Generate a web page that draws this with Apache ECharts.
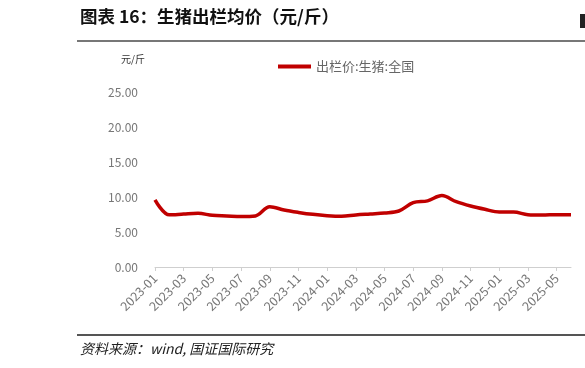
<!DOCTYPE html>
<html>
<head>
<meta charset="utf-8">
<script src="https://cdn.jsdelivr.net/npm/echarts@6/dist/echarts.min.js"></script>
<style>
  html, body { margin: 0; padding: 0; background: #fff; }
  #chart { width: 585px; height: 368px; }
</style>
</head>
<body>
<div id="chart"></div>
<script>
// monthly, 2023-01 .. 2025-06
const months = [
  '2023-01', '2023-02', '2023-03', '2023-04', '2023-05', '2023-06',
  '2023-07', '2023-08', '2023-09', '2023-10', '2023-11', '2023-12',
  '2024-01', '2024-02', '2024-03', '2024-04', '2024-05', '2024-06',
  '2024-07', '2024-08', '2024-09', '2024-10', '2024-11', '2024-12',
  '2025-01', '2025-02', '2025-03', '2025-04', '2025-05', '2025-06'
];
const hogPrice = [
  9.6, 7.45, 7.57, 7.67, 7.38, 7.29,
  7.2, 7.3, 8.6, 8.14, 7.8, 7.52,
  7.33, 7.24, 7.43, 7.57, 7.71, 8.0,
  9.19, 9.45, 10.2, 9.33, 8.71, 8.24,
  7.86, 7.86, 7.48, 7.43, 7.48, 7.48
];
const seriesName = '出栏价:生猪:全国';
const cjk = '"Noto Sans CJK SC", sans-serif';

const chart = echarts.init(document.getElementById('chart'));

chart.setOption({
  animation: false,
  textStyle: { fontFamily: cjk },
  grid: { left: 155, right: 14, top: 92, bottom: 101 },
  legend: {
    data: [seriesName],
    left: 273,
    top: 55,
    itemWidth: 33,
    itemHeight: 4,
    itemGap: 3,
    icon: 'rect',
    textStyle: { fontSize: 13, color: '#666', fontFamily: cjk }
  },
  xAxis: {
    type: 'category',
    data: months,
    boundaryGap: false,
    axisLine: { lineStyle: { color: '#cfcfcf' } },
    axisTick: { interval: 1, length: 4, lineStyle: { color: '#cfcfcf' } },
    axisLabel: {
      interval: 1,
      rotate: 45,
      fontSize: 12.5,
      color: '#777',
      margin: 9
    }
  },
  yAxis: {
    type: 'value',
    min: 0,
    max: 25,
    interval: 5,
    name: '元/斤',
    nameLocation: 'end',
    nameGap: 28,
    nameTextStyle: { fontSize: 10, color: '#333', align: 'right', padding: [0, 10, 0, 0] },
    axisLine: { show: false },
    axisTick: { show: false },
    splitLine: { show: false },
    axisLabel: {
      fontSize: 12,
      color: '#777',
      margin: 17,
      formatter: v => v.toFixed(2)
    }
  },
  series: [{
    name: seriesName,
    type: 'line',
    data: hogPrice,
    smooth: 0.35,
    symbol: 'none',
    lineStyle: { color: '#c00000', width: 3.5 },
    itemStyle: { color: '#c00000' }
  }],
  graphic: [
    {
      type: 'text',
      left: 80,
      top: 8,
      style: {
        text: '图表 16：生猪出栏均价（元/斤）',
        font: 'bold 17.5px ' + cjk,
        fill: '#111'
      }
    },
    {
      type: 'rect',
      shape: { x: 77, y: 40, width: 508, height: 2 },
      style: { fill: '#777' }
    },
    {
      type: 'rect',
      shape: { x: 580, y: 14, width: 5, height: 14 },
      style: { fill: '#222' }
    },
    {
      type: 'rect',
      shape: { x: 77, y: 334, width: 508, height: 2 },
      style: { fill: '#555' }
    },
    {
      type: 'text',
      left: 80,
      top: 342,
      style: {
        text: '资料来源：wind, 国证国际研究',
        font: 'italic 14px ' + cjk,
        fill: '#222'
      }
    }
  ]
});
</script>
</body>
</html>
